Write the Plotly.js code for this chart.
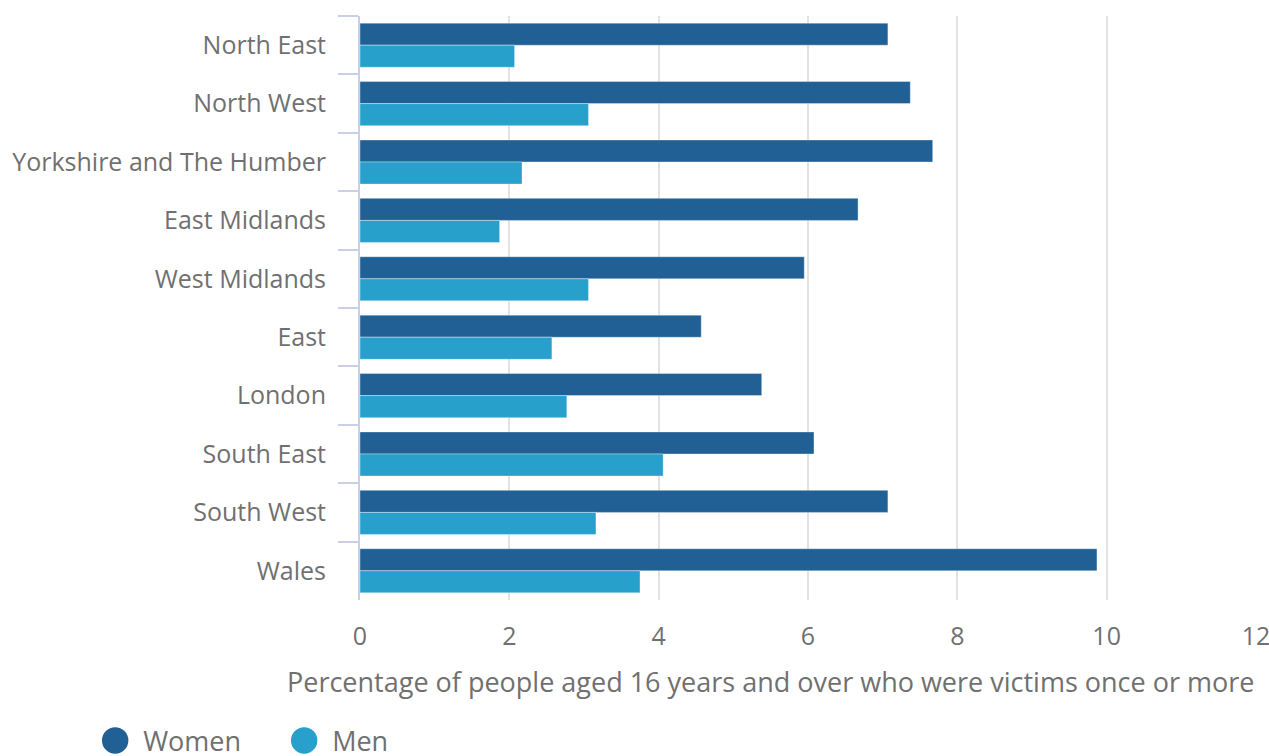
<!DOCTYPE html>
<html>
<head>
<meta charset="utf-8">
<script src="https://cdn.plot.ly/plotly-3.0.1.min.js"></script>
<style>html,body{margin:0;padding:0;background:#fff;}#chart{width:1269px;height:756px;}</style>
</head>
<body>
<div id="chart"></div>
<script>
const regions = ["North East","North West","Yorkshire and The Humber","East Midlands","West Midlands","East","London","South East","South West","Wales"];
const women = [7.07, 7.37, 7.67, 6.67, 5.95, 4.57, 5.38, 6.08, 7.07, 9.87];
const men = [2.07, 3.06, 2.17, 1.87, 3.06, 2.57, 2.77, 4.06, 3.16, 3.75];
const xTicks = [0, 2, 4, 6, 8, 10, 12];
const xTitle = "Percentage of people aged 16 years and over who were victims once or more";

const cWomen = "#206095", cMen = "#27a0cc";
const font = "Open Sans, sans-serif";
const grey = "#707070";
const traces = [
  {type:"bar", orientation:"h", name:"Women", y:regions, x:women, marker:{color:cWomen, line:{color:"rgba(255,255,255,0.35)", width:1}}, showlegend:false, hoverinfo:"x"},
  {type:"bar", orientation:"h", name:"Men", y:regions, x:men, marker:{color:cMen, line:{color:"rgba(255,255,255,0.35)", width:1}}, showlegend:false, hoverinfo:"x"},
  {type:"scatter", mode:"markers", name:"Women", x:[null], y:[null], marker:{color:cWomen, size:16, symbol:"circle"}},
  {type:"scatter", mode:"markers", name:"Men", x:[null], y:[null], marker:{color:cMen, size:16, symbol:"circle"}}
];
const layout = {
  width:1269, height:756,
  margin:{l:360, r:13, t:16, b:156, autoexpand:false},
  paper_bgcolor:"#fff", plot_bgcolor:"#fff",
  font:{family:font, size:25, color:grey},
  barmode:"group", bargap:0.245, bargroupgap:0,
  xaxis:{range:[0,12], tickvals:xTicks, ticktext:xTicks.map(String), showgrid:true, gridcolor:"#e2e2e2", gridwidth:2, zeroline:false, showline:false, ticks:"", ticklabelstandoff:19, ticklabeloverflow:"allow", tickfont:{size:25, color:grey}, fixedrange:true, automargin:false},
  yaxis:{type:"category", autorange:"reversed", showline:true, linecolor:"#c9d0e6", linewidth:2, ticks:"outside", tickson:"boundaries", ticklen:20, tickwidth:2, tickcolor:"#c9d0e6", showgrid:false, tickfont:{size:25, color:grey}, ticklabelstandoff:27, fixedrange:true, automargin:false},
  showlegend:true,
  legend:{orientation:"h", xref:"container", yref:"container", x:0.075, xanchor:"left", y:0.02, yanchor:"middle", font:{size:27, color:grey}, itemsizing:"trace", tracegroupgap:0, entrywidth:144, entrywidthmode:"pixels"},
  annotations:[{text:xTitle, xref:"paper", yref:"paper", x:1, xanchor:"right", y:-0.1387, yanchor:"middle", showarrow:false, font:{size:27, color:grey}}]
};
Plotly.newPlot("chart", traces, layout, {displayModeBar:false, staticPlot:true}).then(function(){
  document.querySelectorAll('.legend .legendpoints path').forEach(function(p){
    p.setAttribute('transform', (p.getAttribute('transform')||'') + ' scale(1.65)');
  });
  document.querySelectorAll('.legend text.legendtext').forEach(function(t){
    var x = parseFloat(t.getAttribute('x')||'0');
    t.setAttribute('x', x + 8);
  });
});
</script>
</body>
</html>
